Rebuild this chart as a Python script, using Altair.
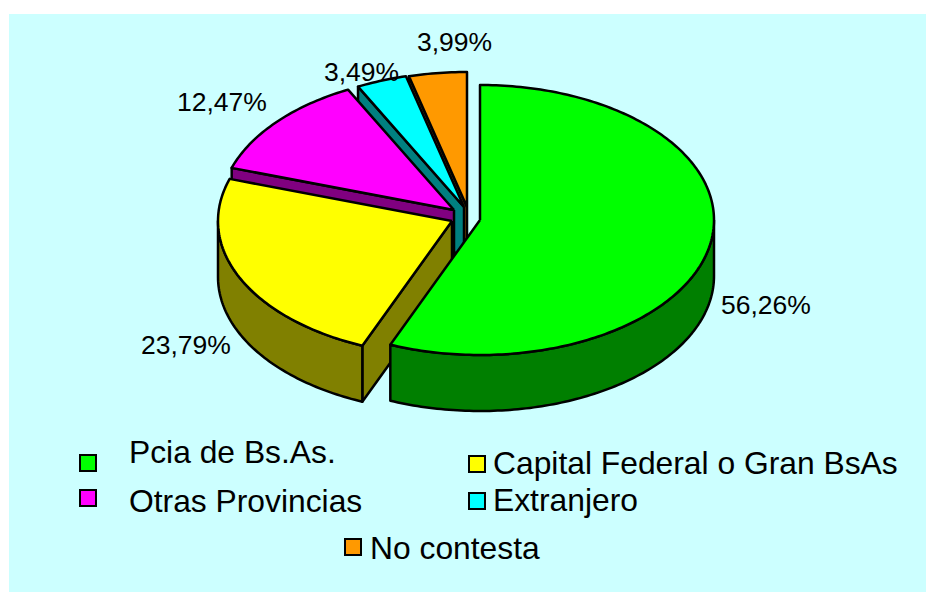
import math
import altair as alt
import pandas as pd

categories = ["Pcia de Bs.As.", "Capital Federal o Gran BsAs", "Otras Provincias", "Extranjero", "No contesta"]
shares = [56.26, 23.79, 12.47, 3.49, 3.99]
share_labels = ["56,26%", "23,79%", "12,47%", "3,49%", "3,99%"]
top_colors = ["#00FF00", "#FFFF00", "#FF00FF", "#00FFFF", "#FF9900"]
side_colors = ["#007F00", "#808000", "#800080", "#008080", "#804D00"]

# layout: pie geometry and placement, in page pixels
apexes = [(480, 220), (452, 221), (454, 210), (464, 207), (467, 207)]
RX, RY, DEPTH = 234, 135, 56
label_pos = [(721, 314), (141, 354), (177, 111), (324, 81), (417, 51)]
legend_box = [(88, 463), (477, 464), (88, 498), (477, 501), (353, 547)]
legend_text = [(129, 463), (493, 474), (129, 512), (493, 511), (370, 559)]

W, H = 918, 584
X = alt.Scale(domain=[8, 8 + W], range=[0, W], nice=False, zero=False)
Y = alt.Scale(domain=[8, 8 + H], range=[0, H], nice=False, zero=False)


def pt(apex, deg):
    a = math.radians(deg)
    return apex[0] + RX * math.sin(a), apex[1] - RY * math.cos(a)


def polygon(points, color):
    pts = list(points) + [points[0]]
    df = pd.DataFrame({"x": [p[0] for p in pts], "y": [p[1] for p in pts], "i": range(len(pts))})
    return alt.Chart(df).mark_line(fill=color, stroke="black", strokeWidth=2.5, strokeJoin="round").encode(
        x=alt.X("x:Q", scale=X, axis=None),
        y=alt.Y("y:Q", scale=Y, axis=None),
        order="i:Q",
    )


def down(p):
    return (p[0], p[1] + DEPTH)


layers = []
bg = pd.DataFrame({"x": [9], "x2": [926], "y": [14], "y2": [592]})
layers.append(alt.Chart(bg).mark_rect(fill="#CCFFFF").encode(
    x=alt.X("x:Q", scale=X, axis=None), x2="x2:Q",
    y=alt.Y("y:Q", scale=Y, axis=None), y2="y2:Q"))

# cumulative angles of every slice, clockwise from twelve o'clock
starts = []
acc = 0.0
for s in shares:
    starts.append(acc)
    acc += s * 3.6

for k in [4, 3, 2, 1, 0]:
    a0, a1 = starts[k], starts[k] + shares[k] * 3.6
    apex = apexes[k]
    # only the radial walls that face the viewer
    if math.sin(math.radians(a0)) < -1e-6:
        p = pt(apex, a0)
        layers.append(polygon([apex, p, down(p), down(apex)], side_colors[k]))
    if math.sin(math.radians(a1)) > 1e-6:
        p = pt(apex, a1)
        layers.append(polygon([apex, p, down(p), down(apex)], side_colors[k]))
    lo, hi = max(a0, 90), min(a1, 270)
    if hi > lo:
        n = int(hi - lo) + 2
        arc = [pt(apex, lo + (hi - lo) * j / (n - 1)) for j in range(n)]
        layers.append(polygon(arc + [down(q) for q in reversed(arc)], side_colors[k]))
    n = int(a1 - a0) + 2
    arc = [pt(apex, a0 + (a1 - a0) * j / (n - 1)) for j in range(n)]
    layers.append(polygon([apex] + arc, top_colors[k]))

labels = pd.DataFrame({"t": share_labels, "x": [p[0] for p in label_pos], "y": [p[1] for p in label_pos]})
layers.append(alt.Chart(labels).mark_text(
    font="Liberation Sans", fontSize=26.5, align="left", baseline="alphabetic", color="black"
).encode(x=alt.X("x:Q", scale=X, axis=None), y=alt.Y("y:Q", scale=Y, axis=None), text="t:N"))

boxes = pd.DataFrame({"c": top_colors, "x": [p[0] for p in legend_box], "y": [p[1] for p in legend_box]})
layers.append(alt.Chart(boxes).mark_point(
    shape="square", size=256, filled=True, stroke="black", strokeWidth=2, opacity=1
).encode(
    x=alt.X("x:Q", scale=X, axis=None), y=alt.Y("y:Q", scale=Y, axis=None),
    fill=alt.Fill("c:N", scale=None)))

names = pd.DataFrame({"t": categories, "x": [p[0] for p in legend_text], "y": [p[1] for p in legend_text]})
layers.append(alt.Chart(names).mark_text(
    font="Liberation Sans", fontSize=31.8, align="left", baseline="alphabetic", color="black"
).encode(x=alt.X("x:Q", scale=X, axis=None), y=alt.Y("y:Q", scale=Y, axis=None), text="t:N"))

chart = alt.layer(*layers).properties(
    width=W, height=H, padding=0, background="white"
).configure_view(stroke=None)

chart.save("out.html", embed_options={"renderer": "svg", "actions": False})
